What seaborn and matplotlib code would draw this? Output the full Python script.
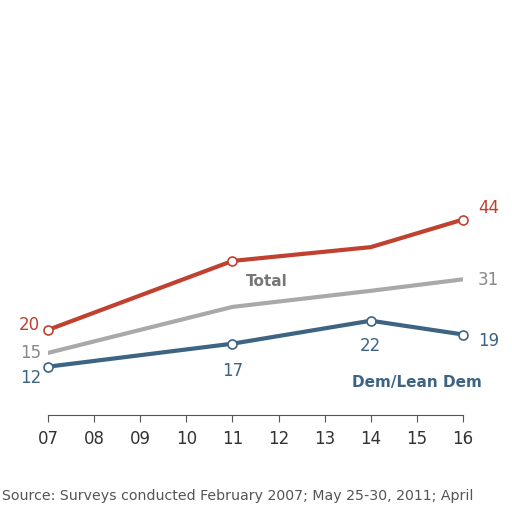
import matplotlib
matplotlib.use("Agg")
import matplotlib.pyplot as plt
import seaborn as sns
import pandas as pd

years = [7, 11, 14, 16]
tick_labels = ["07", "08", "09", "10", "11", "12", "13", "14", "15", "16"]
rep = [20, 35, 38, 44]
total = [15, 25, 28.5, 31]
dem = [12, 17, 22, 19]

sns.set_style("white")
plt.rcParams['font.family'] = ['DejaVu Sans']
fig = plt.figure(figsize=(5.12, 5.12), dpi=100)
ax = fig.add_axes([48/512, 0.1895, (463-48)/512, 0.67-0.1895])

red, grey, blue = "#c0412f", "#a9a9a9", "#3d6483"
df = pd.DataFrame({"year": years * 3, "v": rep + total + dem,
                   "s": ["rep"]*4 + ["total"]*4 + ["dem"]*4})
sns.lineplot(data=df, x="year", y="v", hue="s", palette={"rep": red, "total": grey, "dem": blue},
             linewidth=3.0, legend=False, ax=ax)
for s, c, pts in [("rep", red, [0, 1, 3]), ("dem", blue, [0, 1, 2, 3])]:
    vals = rep if s == "rep" else dem
    ax.scatter([years[i] for i in pts], [vals[i] for i in pts], s=42, facecolor="white",
               edgecolor=c, linewidth=1.2, zorder=5, clip_on=False)

ax.set_xlim(7, 16)
ax.set_ylim(1.5, 55)
ax.set_xticks(range(7, 17))
ax.set_xticklabels(tick_labels, fontsize=12, color="#333333")
ax.set_yticks([])
ax.set_xlabel(""); ax.set_ylabel("")
for sp in ["top", "right", "left"]:
    ax.spines[sp].set_visible(False)
ax.spines["bottom"].set_color("#555555")
ax.tick_params(axis="x", bottom=True, length=5, color="#555555", pad=6)

fs = 12
ax.text(6.6, 21, "20", color=red, fontsize=fs, ha="center", va="center")
ax.text(6.62, 15, "15", color="#888888", fontsize=fs, ha="center", va="center")
ax.text(6.62, 9.5, "12", color=blue, fontsize=fs, ha="center", va="center")
ax.text(11, 11, "17", color=blue, fontsize=fs, ha="center", va="center")
ax.text(14, 16.5, "22", color=blue, fontsize=fs, ha="center", va="center")
ax.text(16.55, 17.5, "19", color=blue, fontsize=fs, ha="center", va="center")
ax.text(16.55, 30.8, "31", color="#888888", fontsize=fs, ha="center", va="center")
ax.text(16.55, 46.5, "44", color=red, fontsize=fs, ha="center", va="center")
ax.text(11.3, 30.5, "Total", color="#777777", fontsize=11, fontweight="bold", ha="left", va="center")
ax.text(13.6, 8.5, "Dem/Lean Dem", color=blue, fontsize=11, fontweight="bold", ha="left", va="center")

fig.text(2/512, 1-496/512, "Source: Surveys conducted February 2007; May 25-30, 2011; April",
         fontsize=10.2, color="#555555", ha="left", va="center")
fig.savefig("out.png", dpi=100)
